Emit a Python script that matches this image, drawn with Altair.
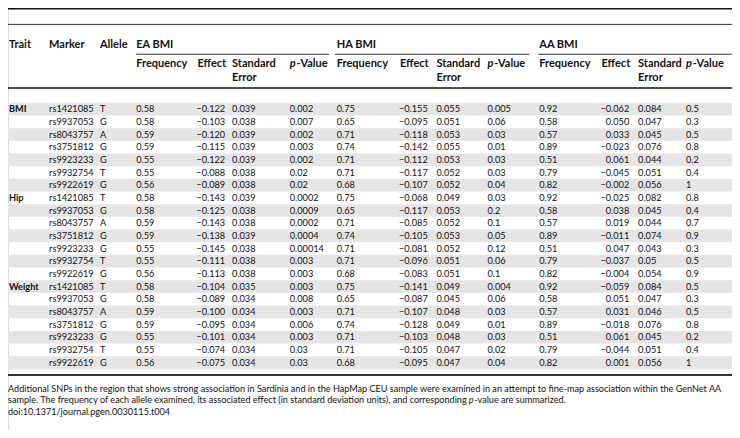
import altair as alt
import pandas as pd

# ---------------- data ----------------
traits = ["BMI", "Hip", "Weight"]
markers = ["rs1421085", "rs9937053", "rs8043757", "rs3751812", "rs9923233", "rs9932754", "rs9922619"]
alleles = ["T", "G", "A", "G", "G", "T", "G"]

ea_freq = ["0.58", "0.58", "0.59", "0.59", "0.55", "0.55", "0.56"]
ha_freq = ["0.75", "0.65", "0.71", "0.74", "0.71", "0.71", "0.68"]
aa_freq = ["0.92", "0.58", "0.57", "0.89", "0.51", "0.79", "0.82"]

ea_effect = {
    "BMI": ["−0.122", "−0.103", "−0.120", "−0.115", "−0.122", "−0.088", "−0.089"],
    "Hip": ["−0.143", "−0.125", "−0.143", "−0.138", "−0.145", "−0.111", "−0.113"],
    "Weight": ["−0.104", "−0.089", "−0.100", "−0.095", "−0.101", "−0.074", "−0.075"],
}
ea_se = {
    "BMI": ["0.039", "0.038", "0.039", "0.039", "0.039", "0.038", "0.038"],
    "Hip": ["0.039", "0.038", "0.038", "0.039", "0.038", "0.038", "0.038"],
    "Weight": ["0.035", "0.034", "0.034", "0.034", "0.034", "0.034", "0.034"],
}
ea_p = {
    "BMI": ["0.002", "0.007", "0.002", "0.003", "0.002", "0.02", "0.02"],
    "Hip": ["0.0002", "0.0009", "0.0002", "0.0004", "0.00014", "0.003", "0.003"],
    "Weight": ["0.003", "0.008", "0.003", "0.006", "0.003", "0.03", "0.03"],
}
ha_effect = {
    "BMI": ["−0.155", "−0.095", "−0.118", "−0.142", "−0.112", "−0.117", "−0.107"],
    "Hip": ["−0.068", "−0.117", "−0.085", "−0.105", "−0.081", "−0.096", "−0.083"],
    "Weight": ["−0.141", "−0.087", "−0.107", "−0.128", "−0.103", "−0.105", "−0.095"],
}
ha_se = {
    "BMI": ["0.055", "0.051", "0.053", "0.055", "0.053", "0.052", "0.052"],
    "Hip": ["0.049", "0.053", "0.052", "0.053", "0.052", "0.051", "0.051"],
    "Weight": ["0.049", "0.045", "0.048", "0.049", "0.048", "0.047", "0.047"],
}
ha_p = {
    "BMI": ["0.005", "0.06", "0.03", "0.01", "0.03", "0.03", "0.04"],
    "Hip": ["0.03", "0.2", "0.1", "0.05", "0.12", "0.06", "0.1"],
    "Weight": ["0.004", "0.06", "0.03", "0.01", "0.03", "0.02", "0.04"],
}
aa_effect = {
    "BMI": ["−0.062", "0.050", "0.033", "−0.023", "0.061", "−0.045", "−0.002"],
    "Hip": ["−0.025", "0.038", "0.019", "−0.011", "0.047", "−0.037", "−0.004"],
    "Weight": ["−0.059", "0.051", "0.031", "−0.018", "0.061", "−0.044", "0.001"],
}
aa_se = {
    "BMI": ["0.084", "0.047", "0.045", "0.076", "0.044", "0.051", "0.056"],
    "Hip": ["0.082", "0.045", "0.044", "0.074", "0.043", "0.05", "0.054"],
    "Weight": ["0.084", "0.047", "0.046", "0.076", "0.045", "0.051", "0.056"],
}
aa_p = {
    "BMI": ["0.5", "0.3", "0.5", "0.8", "0.2", "0.4", "1"],
    "Hip": ["0.8", "0.4", "0.7", "0.9", "0.3", "0.5", "0.9"],
    "Weight": ["0.5", "0.3", "0.5", "0.8", "0.2", "0.4", "1"],
}

group_titles = ["EA BMI", "HA BMI", "AA BMI"]
caption_1 = ("Additional SNPs in the region that shows strong association in Sardinia and in the HapMap CEU "
             "sample were examined in an attempt to fine-map association within the GenNet AA")
caption_2a = ("sample. The frequency of each allele examined, its associated effect (in standard deviation units), "
              "and corresponding")
caption_2b = "-value are summarized."
caption_3 = "doi:10.1371/journal.pgen.0030115.t004"

# ---------------- layout (reference pixel space) ----------------
FONT = "Lato"
W, H = 724, 422
REF_W, REF_H = 740, 438
ROW_Y0, ROW_STEP = 105, 13.15
X_TRAIT, X_MARKER, X_ALLELE = 1, 42, 94
GROUP_X = [
    dict(freq=131, eff=222, se=229, p=288, u0=131, u1=328),
    dict(freq=336, eff=429, se=438, p=490, u0=334, u1=533),
    dict(freq=543, eff=635, se=644, p=693, u0=542, u1=740),
]
Y_GROUP, Y_SUB, Y_ERR = 38, 58.5, 73
Y_CAP = [395, 407, 419]
CAP_P_X = 471

DATA_SIZE = 9.2
HEAD_SIZE = 11.0
CAP_SIZE = 9.1

groups = [
    (ea_freq, ea_effect, ea_se, ea_p),
    (ha_freq, ha_effect, ha_se, ha_p),
    (aa_freq, aa_effect, aa_se, aa_p),
]

left_cells, right_cells, trait_cells, band_rows = [], [], [], []
row = 0
for t in traits:
    for i in range(len(markers)):
        y = ROW_Y0 + row * ROW_STEP
        if i == 0:
            trait_cells.append(dict(x=X_TRAIT, y=y, text=t))
        left_cells.append(dict(x=X_MARKER, y=y, text=markers[i]))
        left_cells.append(dict(x=X_ALLELE, y=y, text=alleles[i]))
        for g, (fr, ef, se, pv) in zip(GROUP_X, groups):
            left_cells.append(dict(x=g["freq"], y=y, text=fr[i]))
            right_cells.append(dict(x=g["eff"], y=y, text=ef[t][i]))
            left_cells.append(dict(x=g["se"], y=y, text=se[t][i]))
            left_cells.append(dict(x=g["p"], y=y, text=pv[t][i]))
        if row % 2 == 0:
            band_rows.append(dict(x=0, x2=REF_W, y=y - ROW_STEP / 2, y2=y + ROW_STEP / 2))
        row += 1

head_left = [
    dict(x=X_TRAIT, y=Y_GROUP, text="Trait"),
    dict(x=X_MARKER, y=Y_GROUP, text="Marker"),
    dict(x=X_ALLELE, y=Y_GROUP, text="Allele"),
]
head_right, head_italic = [], []
for g, title in zip(GROUP_X, group_titles):
    head_left.append(dict(x=g["freq"], y=Y_GROUP, text=title))
    head_left.append(dict(x=g["freq"], y=Y_SUB, text="Frequency"))
    head_left.append(dict(x=g["se"], y=Y_SUB, text="Standard"))
    head_left.append(dict(x=g["se"], y=Y_ERR, text="Error"))
    head_left.append(dict(x=g["p"] + 7.0, y=Y_SUB, text="-Value"))
    head_italic.append(dict(x=g["p"], y=Y_SUB, text="p"))
    head_right.append(dict(x=g["eff"] + 1, y=Y_SUB, text="Effect"))

rules = [
    dict(x=0, x2=REF_W, y=0.8, w=1.6, c="#111111"),
    dict(x=0, x2=REF_W, y=17, w=1.0, c="#333333"),
    dict(x=0, x2=REF_W, y=83, w=1.4, c="#111111"),
    dict(x=0, x2=REF_W, y=381, w=2.0, c="#333333"),
]
for g in GROUP_X:
    rules.append(dict(x=g["u0"], x2=g["u1"], y=48, w=1.0, c="#333333"))

cap_plain = [
    dict(x=0, y=Y_CAP[0], text=caption_1),
    dict(x=0, y=Y_CAP[1], text=caption_2a),
    dict(x=CAP_P_X + 5.5, y=Y_CAP[1], text=caption_2b),
    dict(x=0, y=Y_CAP[2], text=caption_3),
]
cap_italic = [dict(x=CAP_P_X, y=Y_CAP[1], text="p")]

# ---------------- chart ----------------
XS = alt.Scale(domain=[0, REF_W], nice=False, zero=False)
YS = alt.Scale(domain=[0, REF_H], nice=False, zero=False, reverse=True)
X = alt.X("x:Q", scale=XS, axis=None)
Y = alt.Y("y:Q", scale=YS, axis=None)


def text_layer(rows, align="left", size=9.0, weight="normal", style="normal"):
    return alt.Chart(pd.DataFrame(rows)).mark_text(
        align=align, baseline="middle", font=FONT, fontSize=size,
        fontWeight=weight, fontStyle=style, color="#111111"
    ).encode(x=X, y=Y, text="text:N")


bands = alt.Chart(pd.DataFrame(band_rows)).mark_rect(color="#e5e5e5").encode(
    x=X, x2="x2:Q", y=Y, y2="y2:Q"
)
rule_layer = alt.Chart(pd.DataFrame(rules)).mark_rule().encode(
    x=X, x2="x2:Q", y=Y,
    strokeWidth=alt.StrokeWidth("w:Q", scale=None, legend=None),
    color=alt.Color("c:N", scale=None, legend=None),
)

chart = alt.layer(
    bands,
    rule_layer,
    text_layer(left_cells, size=DATA_SIZE),
    text_layer(right_cells, align="right", size=DATA_SIZE),
    text_layer(trait_cells, size=DATA_SIZE, weight="bold"),
    text_layer(head_left, size=HEAD_SIZE, weight="bold"),
    text_layer(head_right, align="right", size=HEAD_SIZE, weight="bold"),
    text_layer(head_italic, size=HEAD_SIZE, weight="bold", style="italic"),
    text_layer(cap_plain, size=CAP_SIZE),
    text_layer(cap_italic, size=CAP_SIZE, style="italic"),
).properties(
    width=W, height=H, padding=0, autosize=alt.AutoSizeParams(type="none")
).configure_view(stroke=None).configure(background="white")

chart.save("out.html", embed_options={"renderer": "svg", "actions": False})
